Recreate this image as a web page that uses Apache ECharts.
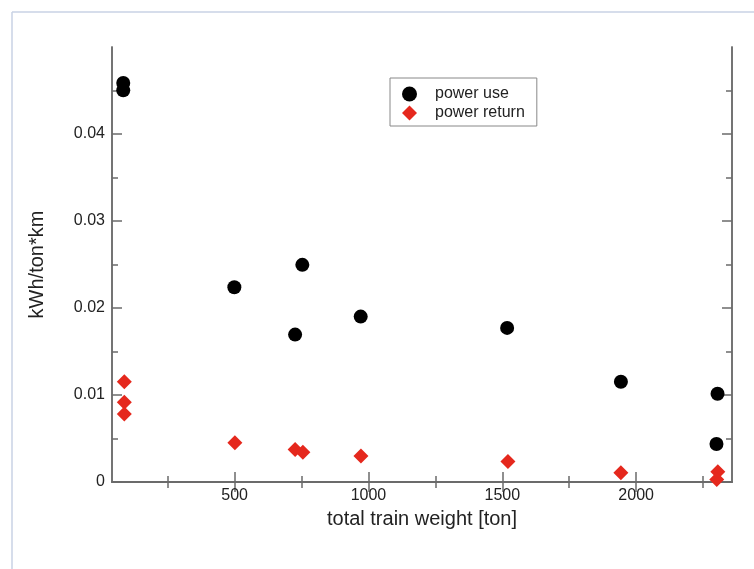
<!DOCTYPE html>
<html>
<head>
<meta charset="utf-8">
<title>power use / power return</title>
<script src="https://cdn.jsdelivr.net/npm/echarts@6/dist/echarts.min.js"></script>
<style>
  html, body { margin: 0; padding: 0; background: #fff; }
  #main { width: 754px; height: 569px; }
</style>
</head>
<body>
<div id="main"></div>
<script>
// 数据：总重量 [ton] 与 kWh/ton*km
const useWeight = [84, 84, 499, 726, 753, 971, 1518, 1943, 2304, 2300];
const useValue = [0.04587, 0.04502, 0.02239, 0.01694, 0.02496, 0.01901, 0.01771, 0.01153, 0.01015, 0.00436];
const returnWeight = [88, 88, 88, 501, 726, 755, 972, 1521, 1943, 2305, 2301];
const returnValue = [0.01153, 0.00916, 0.00781, 0.00451, 0.00375, 0.00341, 0.00298, 0.00237, 0.00106, 0.00117, 0.0003];

// 刻度
const xMajor = [500, 1000, 1500, 2000];
const xMinor = [250, 750, 1250, 1750, 2250];
const yMajor = [0, 0.01, 0.02, 0.03, 0.04];
const yMinor = [0.005, 0.015, 0.025, 0.035, 0.045];

const X_MIN = 42, X_MAX = 2358;
const Y_MIN = 0, Y_MAX = 0.05;
const axisColor = '#6b6b6b';
const font = 'Liberation Sans, Arial, Helvetica, sans-serif';

function pairs(xs, ys) {
  return xs.map((x, i) => [x, ys[i]]);
}

// 一根轴只画一组刻度，主刻度和次刻度分开画
function xAxisOf(position, ticks, len, extra) {
  return Object.assign({
    type: 'value',
    position: position,
    min: X_MIN,
    max: X_MAX,
    axisLine: { show: true, lineStyle: { color: axisColor, width: 1.5 } },
    axisTick: { show: true, inside: true, length: len, customValues: ticks, lineStyle: { color: axisColor, width: 1.5 } },
    axisLabel: { show: false },
    splitLine: { show: false }
  }, extra || {});
}
function yAxisOf(position, ticks, len, extra) {
  return Object.assign({
    type: 'value',
    position: position,
    min: Y_MIN,
    max: Y_MAX,
    axisLine: { show: true, lineStyle: { color: axisColor, width: 1.5 } },
    axisTick: { show: true, inside: true, length: len, customValues: ticks, lineStyle: { color: axisColor, width: 1.5 } },
    axisLabel: { show: false },
    splitLine: { show: false }
  }, extra || {});
}

let myChart = echarts.init(document.getElementById('main'), null, { renderer: 'canvas' });

let option = {
  backgroundColor: '#fff',
  animation: false,
  grid: { left: 112, right: 22, top: 47, bottom: 87 },
  // 外框（浅色边线）
  graphic: [
    { type: 'line', shape: { x1: 12, y1: 12, x2: 754, y2: 12 }, style: { stroke: '#c9d2e4', lineWidth: 1.5 } },
    { type: 'line', shape: { x1: 12, y1: 12, x2: 12, y2: 569 }, style: { stroke: '#c9d2e4', lineWidth: 1.5 } }
  ],
  legend: {
    orient: 'vertical',
    left: 390,
    top: 78,
    padding: [8, 12, 5, 12],
    itemWidth: 15,
    itemHeight: 15,
    itemGap: 3,
    borderColor: '#888',
    borderWidth: 1,
    textStyle: { fontFamily: font, fontSize: 16, color: '#222', padding: [0, 0, 0, 13] },
    data: ['power use', 'power return']
  },
  xAxis: [
    xAxisOf('bottom', xMajor, 10, {
      name: 'total train weight [ton]',
      nameLocation: 'middle',
      nameGap: 27,
      nameTextStyle: { fontFamily: font, fontSize: 20, color: '#222' },
      axisLabel: {
        show: true, customValues: xMajor, margin: 6, fontFamily: font, fontSize: 16, color: '#222',
        formatter: (v) => String(v)
      }
    }),
    xAxisOf('bottom', xMinor, 6),
    xAxisOf('top', xMajor, 10),
    xAxisOf('top', xMinor, 6)
  ],
  yAxis: [
    yAxisOf('left', yMajor, 10, {
      name: 'kWh/ton*km',
      nameLocation: 'middle',
      nameGap: 65,
      nameTextStyle: { fontFamily: font, fontSize: 20, color: '#222' },
      axisLabel: { show: true, customValues: yMajor, margin: 7, fontFamily: font, fontSize: 16, color: '#222' }
    }),
    yAxisOf('left', yMinor, 6),
    yAxisOf('right', yMajor, 10),
    yAxisOf('right', yMinor, 6)
  ],
  series: [
    {
      name: 'power use',
      type: 'scatter',
      xAxisIndex: 0,
      yAxisIndex: 0,
      symbol: 'circle',
      symbolSize: 14,
      itemStyle: { color: '#000', opacity: 1 },
      data: pairs(useWeight, useValue)
    },
    {
      name: 'power return',
      type: 'scatter',
      xAxisIndex: 0,
      yAxisIndex: 0,
      symbol: 'diamond',
      symbolSize: 15,
      itemStyle: { color: '#e5281d', opacity: 1 },
      data: pairs(returnWeight, returnValue)
    }
  ]
};

option && myChart.setOption(option);
</script>
</body>
</html>
